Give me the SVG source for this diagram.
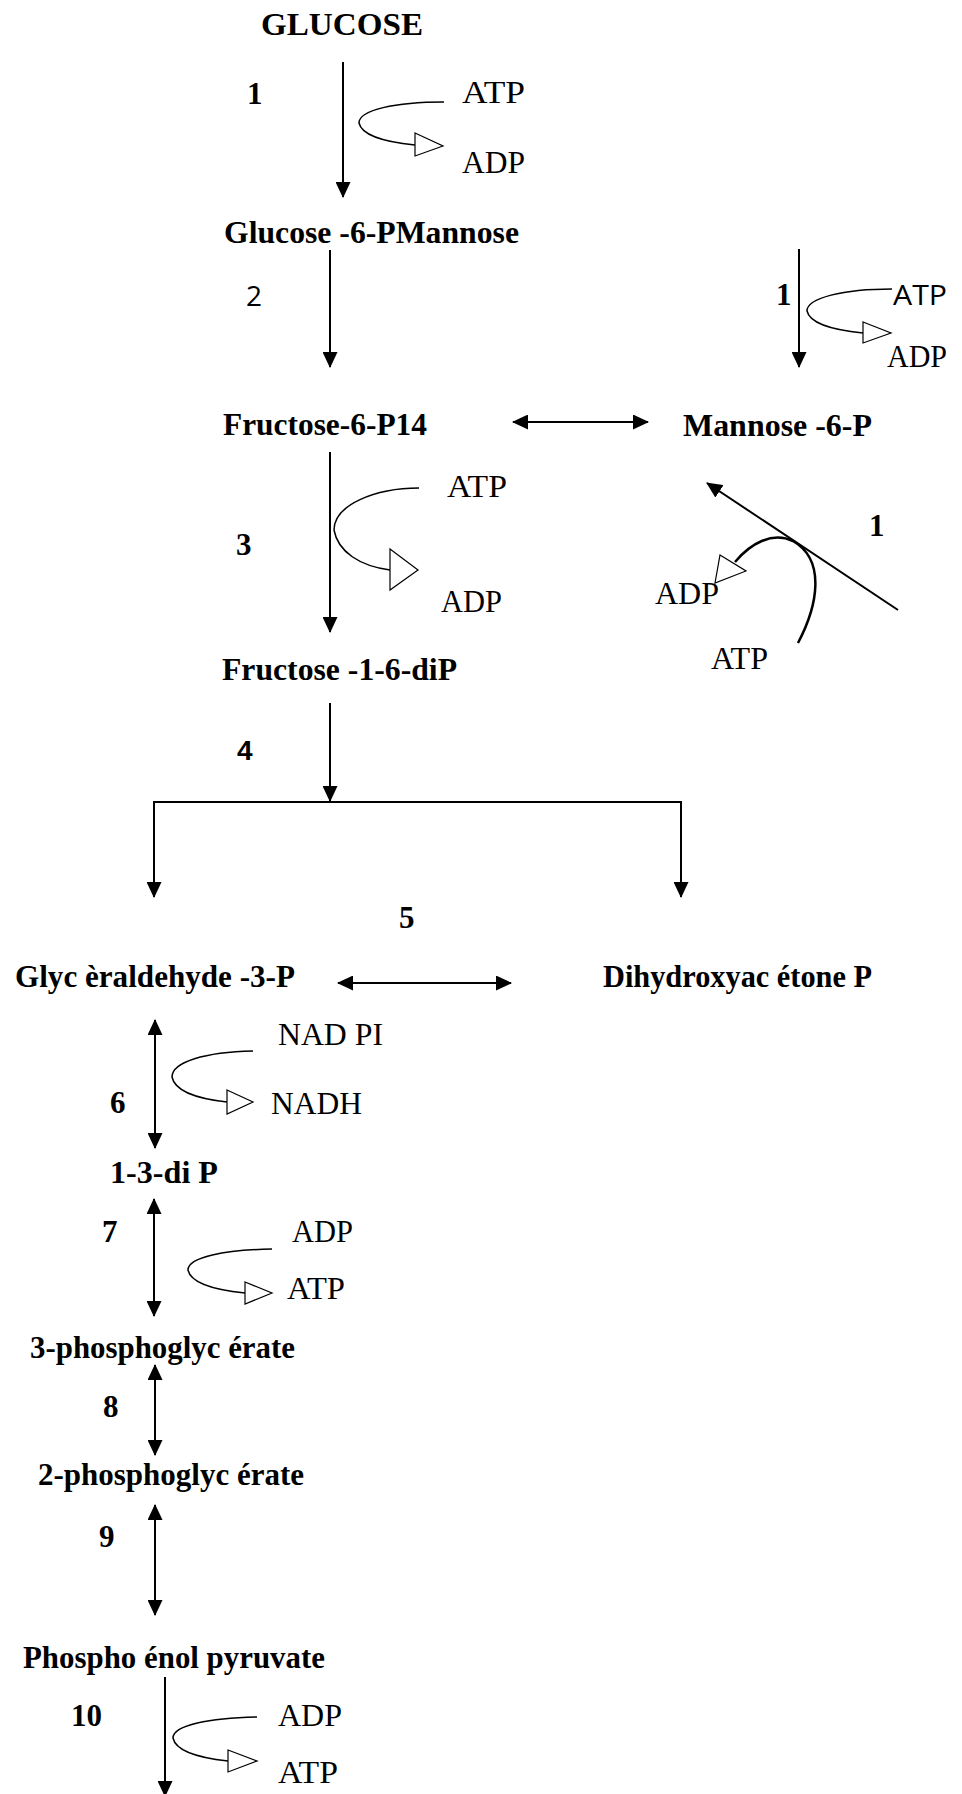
<svg xmlns="http://www.w3.org/2000/svg" width="962" height="1794" viewBox="0 0 962 1794">
<style>
.b{font-family:"Liberation Serif","Times New Roman",serif;font-weight:bold;font-size:31px;fill:#000}
.r{font-family:"Liberation Serif","Times New Roman",serif;font-size:31px;fill:#000}
.n{font-family:"Liberation Serif","Times New Roman",serif;font-weight:bold;font-size:31px;fill:#000}
.s{font-family:"Open Sans","Liberation Sans",sans-serif;font-size:28px;fill:#000}
.sb{font-family:"Liberation Sans",Arial,sans-serif;font-weight:bold;font-size:28px;fill:#000}
.ln{fill:none;stroke:#000;stroke-width:2}
.cv{fill:none;stroke:#000;stroke-width:1.5}
.tri{fill:#fff;stroke:#000;stroke-width:1.2}
</style>
<defs>
<marker id="ah" viewBox="0 0 16 15" refX="15" refY="7.5" markerWidth="16" markerHeight="15" markerUnits="userSpaceOnUse" orient="auto-start-reverse">
<path d="M0,0 L16,7.5 L0,15 z" fill="#000"/>
</marker>
</defs>
<rect width="962" height="1794" fill="#fff"/>

<g id="glucose"><text class="b" x="261" y="35" textLength="162" lengthAdjust="spacingAndGlyphs">GLUCOSE</text></g>
<g id="glucose6p"><text class="b" x="224" y="243" textLength="295" lengthAdjust="spacingAndGlyphs">Glucose -6-PMannose</text></g>
<g id="fructose6p"><text class="b" x="223" y="435" textLength="204" lengthAdjust="spacingAndGlyphs">Fructose-6-P14</text></g>
<g id="mannose6p"><text class="b" x="683" y="436" textLength="189" lengthAdjust="spacingAndGlyphs">Mannose -6-P</text></g>
<g id="fructose16dip"><text class="b" x="222" y="680" textLength="235" lengthAdjust="spacingAndGlyphs">Fructose -1-6-diP</text></g>
<g id="glyceraldehyde"><text class="b" x="15" y="987" textLength="280" lengthAdjust="spacingAndGlyphs">Glyc èraldehyde -3-P</text></g>
<g id="dihydroxyacetone"><text class="b" x="603" y="987" textLength="269" lengthAdjust="spacingAndGlyphs">Dihydroxyac étone P</text></g>
<g id="diP13"><text class="b" x="110" y="1183" textLength="108" lengthAdjust="spacingAndGlyphs">1-3-di P</text></g>
<g id="pg3"><text class="b" x="30" y="1358" textLength="265" lengthAdjust="spacingAndGlyphs">3-phosphoglyc érate</text></g>
<g id="pg2"><text class="b" x="38" y="1485" textLength="266" lengthAdjust="spacingAndGlyphs">2-phosphoglyc érate</text></g>
<g id="pep"><text class="b" x="23" y="1668" textLength="302" lengthAdjust="spacingAndGlyphs">Phospho énol pyruvate</text></g>

<g id="labels">
<text class="n" x="247" y="104">1</text>
<text class="s" x="246" y="306">2</text>
<text class="n" x="776" y="305">1</text>
<text class="n" x="236" y="555">3</text>
<text class="n" x="869" y="536">1</text>
<text class="sb" x="237" y="760">4</text>
<text class="n" x="399" y="928">5</text>
<text class="n" x="110" y="1113">6</text>
<text class="n" x="102" y="1242">7</text>
<text class="n" x="103" y="1417">8</text>
<text class="n" x="99" y="1547">9</text>
<text class="n" x="71" y="1726">10</text>
</g>

<g id="cofactors">
<text class="r" x="462" y="103" textLength="63" lengthAdjust="spacingAndGlyphs">ATP</text>
<text class="r" x="462" y="173" textLength="63" lengthAdjust="spacingAndGlyphs">ADP</text>
<text class="s" x="893" y="305" textLength="54" lengthAdjust="spacingAndGlyphs">ATP</text>
<text class="r" x="887" y="367" textLength="60" lengthAdjust="spacingAndGlyphs">ADP</text>
<text class="r" x="447" y="497" textLength="60" lengthAdjust="spacingAndGlyphs">ATP</text>
<text class="r" x="441" y="612" textLength="61" lengthAdjust="spacingAndGlyphs">ADP</text>
<text class="r" x="655" y="604" textLength="64" lengthAdjust="spacingAndGlyphs">ADP</text>
<text class="r" x="711" y="669" textLength="57" lengthAdjust="spacingAndGlyphs">ATP</text>
<text class="r" x="278" y="1045" textLength="105" lengthAdjust="spacingAndGlyphs">NAD PI</text>
<text class="r" x="271" y="1114" textLength="91" lengthAdjust="spacingAndGlyphs">NADH</text>
<text class="r" x="292" y="1242" textLength="61" lengthAdjust="spacingAndGlyphs">ADP</text>
<text class="r" x="287" y="1299" textLength="58" lengthAdjust="spacingAndGlyphs">ATP</text>
<text class="r" x="278" y="1726" textLength="64" lengthAdjust="spacingAndGlyphs">ADP</text>
<text class="r" x="278" y="1783" textLength="60" lengthAdjust="spacingAndGlyphs">ATP</text>
</g>

<g id="connectors">
<line class="ln" x1="343" y1="62" x2="343" y2="197" marker-end="url(#ah)"/>
<line class="ln" x1="330" y1="250" x2="330" y2="367" marker-end="url(#ah)"/>
<line class="ln" x1="799" y1="249" x2="799" y2="367" marker-end="url(#ah)"/>
<line class="ln" x1="513" y1="422" x2="648" y2="422" marker-start="url(#ah)" marker-end="url(#ah)"/>
<line class="ln" x1="330" y1="452" x2="330" y2="632" marker-end="url(#ah)"/>
<line class="ln" x1="898" y1="610" x2="707" y2="483" marker-end="url(#ah)"/>
<line class="ln" x1="330" y1="703" x2="330" y2="801" marker-end="url(#ah)"/>
<polyline class="ln" points="154,897 154,802 681,802 681,897" marker-start="url(#ah)" marker-end="url(#ah)"/>
<line class="ln" x1="338" y1="983" x2="511" y2="983" marker-start="url(#ah)" marker-end="url(#ah)"/>
<line class="ln" x1="155" y1="1020" x2="155" y2="1148" marker-start="url(#ah)" marker-end="url(#ah)"/>
<line class="ln" x1="154" y1="1199" x2="154" y2="1316" marker-start="url(#ah)" marker-end="url(#ah)"/>
<line class="ln" x1="155" y1="1365" x2="155" y2="1455" marker-start="url(#ah)" marker-end="url(#ah)"/>
<line class="ln" x1="155" y1="1505" x2="155" y2="1615" marker-start="url(#ah)" marker-end="url(#ah)"/>
<line class="ln" x1="165" y1="1677" x2="165" y2="1796" marker-end="url(#ah)"/>

<path class="cv" d="M444,102 C395,102 359,110 359,123 C362,136 385,142 415,145"/>
<polygon class="tri" points="415,133 443,146 415,156"/>
<path class="cv" d="M892,289 C843,289 807,298 807,311 C810,324 833,330 863,333"/>
<polygon class="tri" points="863,322 891,333 863,343"/>
<path class="cv" d="M419,488 C375,488 334,505 334,530 C338,552 360,566 390,570"/>
<polygon class="tri" points="390,549 418,570 390,590"/>
<path class="cv" d="M253,1051 C205,1052 172,1062 172,1077 C175,1092 200,1099 227,1102"/>
<polygon class="tri" points="227,1090 253,1102 227,1114"/>
<path class="cv" d="M272,1249 C225,1250 188,1257 188,1270 C191,1284 216,1290 245,1293"/>
<polygon class="tri" points="245,1282 272,1293 245,1304"/>
<path class="cv" d="M257,1717 C210,1718 173,1725 173,1738 C176,1752 200,1758 228,1761"/>
<polygon class="tri" points="228,1750 257,1761 228,1772"/>
<path d="M798,643 C818,605 826,560 793,541 C772,531 750,544 735,562" fill="none" stroke="#000" stroke-width="2.5"/>
<polygon class="tri" points="720,555 746,571 715,583"/>
</g>
</svg>
